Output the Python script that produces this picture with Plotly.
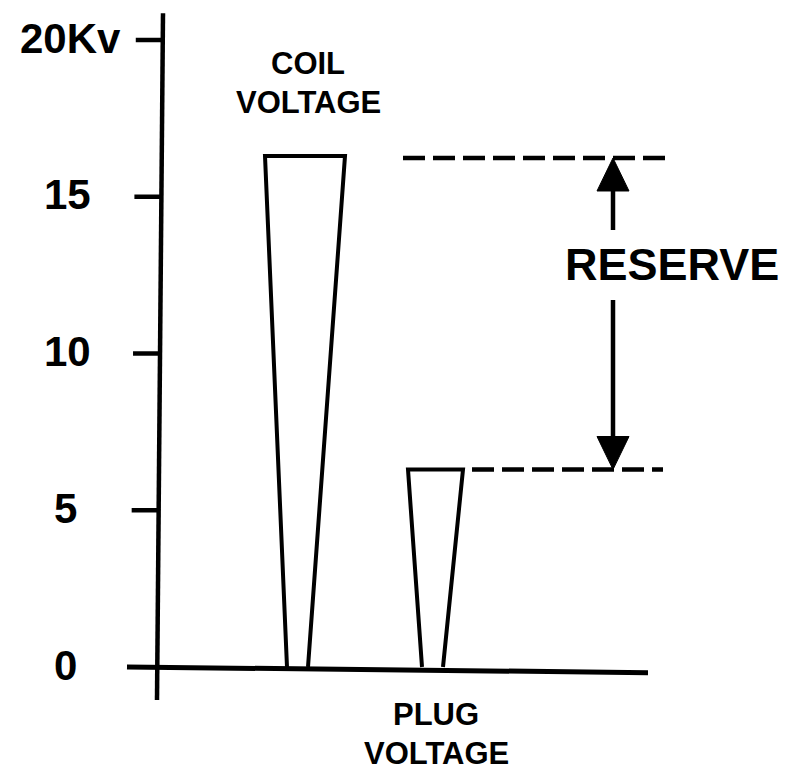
import plotly.graph_objects as go

# ---------------- data ----------------
tick_values = [0, 5, 10, 15, 20]
tick_labels = ["0", "5", "10", "15", "20Kv"]
bar_names = [["COIL", "VOLTAGE"], ["PLUG", "VOLTAGE"]]
bar_kv = [16.3, 6.3]          # coil voltage, plug voltage (kV)
reserve_text = "RESERVE"

# ---------------- layout / style ----------------
W, H = 785, 770
Y0_PX = 667            # pixel row of 0 kV
PX = 31.35             # pixels per kV
def d(px):             # pixel length -> kV length
    return px / PX

FONT = "Liberation Sans, Arial, Helvetica, sans-serif"
LW = 4
INK = "black"

# bar geometry (x in pixel-like units of the x axis)
bar_bottom_c = [297.5, 432.5]
bar_bottom_half = [10.5, 10.5]
bar_top_c = [305, 435.5]
bar_top_half = [40, 27.5]

axis_top_x, axis_bot_x = 163, 157
axis_top_kv, axis_bot_kv = 20.85, -1.05
tick_len = 27
label_right = [79, 79, 93, 93, 123]

base_x0, base_x1 = 127, 648
base_slope_kv = -0.18

dash_top = (403, 672)
dash_bot = (472, 663)
arrow_x = 613
text_x = 672
gap_half = 35      # px half-gap of shaft around text
head_len, head_half = 33, 16

fig = go.Figure()

def line(xs, ys, width=LW, dash=None):
    fig.add_trace(go.Scatter(x=xs, y=ys, mode="lines",
                             line=dict(color=INK, width=width, dash=dash),
                             hoverinfo="skip", showlegend=False))

def axis_x(v):
    return axis_bot_x + (v - axis_bot_kv) / (axis_top_kv - axis_bot_kv) * (axis_top_x - axis_bot_x)

# y axis line
line([axis_bot_x, axis_top_x], [axis_bot_kv, axis_top_kv], width=4.5)
# ticks (not at 0; baseline continues there)
for v in tick_values[1:]:
    ax = axis_x(v)
    line([ax - tick_len, ax], [v, v], width=4.5)

# baseline
line([base_x0, base_x1], [0, base_slope_kv], width=5)

# voltage bars (trapezoids open at the baseline)
for i, kv in enumerate(bar_kv):
    bl = bar_bottom_c[i] - bar_bottom_half[i]
    br = bar_bottom_c[i] + bar_bottom_half[i]
    tl = bar_top_c[i] - bar_top_half[i]
    tr = bar_top_c[i] + bar_top_half[i]
    line([bl, tl, tr, br], [0, kv, kv, 0])

# dashed reference lines
coil_kv, plug_kv = bar_kv
top_kv = coil_kv - d(2)
line(list(dash_top), [top_kv, top_kv], width=4.5, dash="22px,8px")
line(list(dash_bot), [plug_kv, plug_kv], width=4.5, dash="22px,8px")

# reserve arrow
text_kv = top_kv - d(107)
line([arrow_x, arrow_x], [top_kv - d(head_len) + 0.05, text_kv + d(gap_half)], width=4.5)
line([arrow_x, arrow_x], [text_kv - d(gap_half), plug_kv + d(head_len) - 0.05], width=4.5)
for tip, sgn in [(top_kv, -1), (plug_kv, 1)]:
    base = tip + sgn * d(head_len)
    fig.add_trace(go.Scatter(x=[arrow_x - head_half, arrow_x, arrow_x + head_half, arrow_x - head_half],
                             y=[base, tip, base, base], mode="lines", fill="toself",
                             fillcolor=INK, line=dict(color=INK, width=1),
                             hoverinfo="skip", showlegend=False))

ann = []
ann.append(dict(x=text_x, y=text_kv, text=f"<b>{reserve_text}</b>", showarrow=False,
                xanchor="center", yanchor="middle",
                font=dict(family=FONT, size=45, color=INK)))

# tick labels
for v, lab, xr in zip(tick_values, tick_labels, label_right):
    ann.append(dict(x=xr, y=v + d(2), text=f"<b>{lab}</b>", showarrow=False,
                    xanchor="right", yanchor="middle",
                    font=dict(family=FONT, size=42, color=INK)))

# bar labels
coil_lines, plug_lines = bar_names
for j, t in enumerate(coil_lines):
    ann.append(dict(x=308, y=coil_kv + d(157 - 64.5 - 38.5 * j), text=f"<b>{t}</b>",
                    showarrow=False, xanchor="center", yanchor="middle",
                    font=dict(family=FONT, size=31, color=INK)))
for j, t in enumerate(plug_lines):
    ann.append(dict(x=436, y=-d(714.5 - Y0_PX + 38.5 * j), text=f"<b>{t}</b>",
                    showarrow=False, xanchor="center", yanchor="middle",
                    font=dict(family=FONT, size=31, color=INK)))

fig.update_layout(
    width=W, height=H,
    margin=dict(l=0, r=0, t=0, b=0),
    paper_bgcolor="white", plot_bgcolor="white",
    xaxis=dict(range=[0, W], visible=False, fixedrange=True),
    yaxis=dict(range=[-(H - Y0_PX) / PX, Y0_PX / PX], visible=False, fixedrange=True),
    annotations=ann,
    showlegend=False,
)

fig.write_html("out.html", config={"displayModeBar": False},
               post_script="document.body.style.margin='0';")
